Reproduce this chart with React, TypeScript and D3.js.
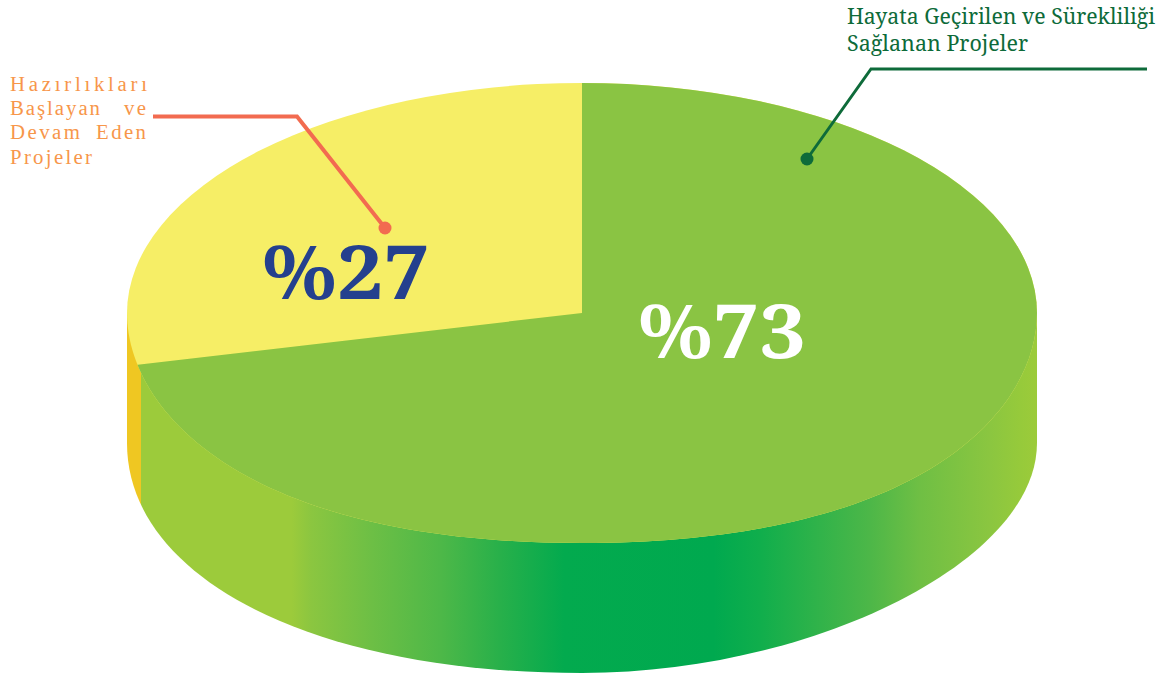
import React from "react";
import * as d3 from "d3";

const categories = ["Hazırlıkları Başlayan ve Devam Eden Projeler", "Hayata Geçirilen ve Sürekliliği Sağlanan Projeler"];
const labels = ["%27", "%73"];
// shares as the slices are actually drawn in the picture (green clockwise from the top, then yellow)
const drawnShares = [28.6, 71.4];
const topColors = ["#F6EE66", "#8AC443"];
const sideYellowColor = "#EFC722";
const sideStops: [number, string][] = [
  [0, "#9CCB3B"], [0.168, "#9CCB3B"], [0.19, "#8BC640"], [0.257, "#6DBF45"], [0.335, "#4DB848"], [0.4, "#28B04A"],
  [0.472, "#03AA4E"], [0.639, "#00A94F"], [0.691, "#10AE4C"], [0.814, "#4DB748"], [0.869, "#6FBF44"], [0.948, "#8BC640"], [0.981, "#96CA3B"], [1, "#9CCB3A"],
];

const cx = 582, cy = 313, rx = 455, ry = 230, depth = 130, wallEdgeShift = 2.5;
// control-point factors of the picture's slightly non-elliptic lower arcs
type K = { k1: number; k2: number };
const topArc: K = { k1: 0.42, k2: 0.75 };
const bottomRight: K = { k1: 0.52, k2: 0.5 };
const bottomLeft: K = { k1: 0.58, k2: 0.6 };

// lower arc from the right end to the left end, at level yc
function lowerArc(p: d3.Path, yc: number, right: K, left: K) {
  p.bezierCurveTo(cx + rx, yc + ry * right.k1, cx + rx * right.k2, yc + ry, cx, yc + ry);
  p.bezierCurveTo(cx - rx * left.k2, yc + ry, cx - rx, yc + ry * left.k1, cx - rx, yc);
}

export default function App() {
  const angle = d3.scaleLinear().domain([0, d3.sum(drawnShares)]).range([0, Math.PI * 2]);
  const x = (t: number) => cx + rx * Math.sin(t);
  const y = (t: number) => cy - ry * Math.cos(t);
  const greenEnd = angle(drawnShares[1]);
  const bx = x(greenEnd);
  const by = y(greenEnd);

  // whole top disc: elliptic upper half, lower arc back
  const lower = d3.path();
  lower.moveTo(cx + rx, cy);
  lowerArc(lower, cy, topArc, topArc);
  const discD = lower.toString() + `A${rx},${ry} 0 0 1 ${cx + rx},${cy}Z`;

  // wall: between the disc's widest line and the lower arc moved down by the depth
  const wall = d3.path();
  wall.moveTo(cx + rx, cy);
  wall.lineTo(cx + rx, cy + depth);
  lowerArc(wall, cy + depth, bottomRight, bottomLeft);
  wall.lineTo(cx - rx, cy);
  wall.closePath();

  // green wedge, clipped by the disc: centre, top, round the right, out along the boundary ray
  const far = 1.6;
  const wedge = d3.path();
  wedge.moveTo(cx, cy);
  wedge.lineTo(cx, cy - ry - 5);
  wedge.lineTo(cx + rx + 5, cy - ry - 5);
  wedge.lineTo(cx + rx + 5, cy + ry + 5);
  wedge.lineTo(cx + (bx - cx) * far, cy + ry + 5);
  wedge.lineTo(cx + (bx - cx) * far, cy + (by - cy) * far);
  wedge.closePath();

  const gx = d3.scaleLinear().domain([cx - rx, cx + rx]).range([0, 1]);
  const wallStart = gx(bx + wallEdgeShift);

  const serif = "'Noto Serif', 'Liberation Serif', serif";
  return (
    <svg width={1169} height={677} style={{ position: "absolute", left: 0, top: 0 }}>
      <defs>
        <linearGradient id="side" gradientUnits="userSpaceOnUse" x1={cx - rx} x2={cx + rx} y1={0} y2={0}>
          <stop offset={0} stopColor={sideYellowColor} />
          <stop offset={wallStart} stopColor={sideYellowColor} />
          {sideStops.map(([o, c]) => <stop key={o} offset={wallStart + o * (1 - wallStart)} stopColor={c} />)}
        </linearGradient>
        <clipPath id="disc"><path d={discD} /></clipPath>
      </defs>
      <path d={wall.toString()} fill="url(#side)" />
      <path d={discD} fill={topColors[0]} />
      <path d={wedge.toString()} fill={topColors[1]} clipPath="url(#disc)" />
      <text x={262} y={299} fontFamily={serif} fontWeight="bold" fontSize={74} fill="#24408E" textLength={168} lengthAdjust="spacingAndGlyphs">{labels[0]}</text>
      <text x={638} y={358} fontFamily={serif} fontWeight="bold" fontSize={74} fill="#fff" textLength={168} lengthAdjust="spacingAndGlyphs">{labels[1]}</text>
      <polyline points="153,116.5 297,116.5 385,228" fill="none" stroke="#F26B50" strokeWidth={4} />
      <circle cx={385} cy={228} r={6.5} fill="#F26B50" />
      <polyline points="1147,69 871,69 807,159" fill="none" stroke="#0E6B3A" strokeWidth={3} />
      <circle cx={807} cy={159} r={6.5} fill="#0E6B3A" />
      <g fontFamily="'Liberation Serif', serif" fontSize={20.8} fill="#F7964A">
        <text x={10} y={91} textLength={137} lengthAdjust="spacing">Hazırlıkları</text>
        <text x={10} y={115} textLength={90} lengthAdjust="spacing">Başlayan</text>
        <text x={124} y={115} textLength={22} lengthAdjust="spacing">ve</text>
        <text x={10} y={139} textLength={70} lengthAdjust="spacing">Devam</text>
        <text x={96} y={139} textLength={50} lengthAdjust="spacing">Eden</text>
        <text x={10} y={163.5} textLength={82} lengthAdjust="spacing">Projeler</text>
      </g>
      <g fontFamily={serif} fontSize={21} fill="#0E6B3A">
        <text x={847} y={24} textLength={308} lengthAdjust="spacingAndGlyphs">Hayata Geçirilen ve Sürekliliği</text>
        <text x={847} y={51} textLength={181} lengthAdjust="spacingAndGlyphs">Sağlanan Projeler</text>
      </g>
    </svg>
  );
}
